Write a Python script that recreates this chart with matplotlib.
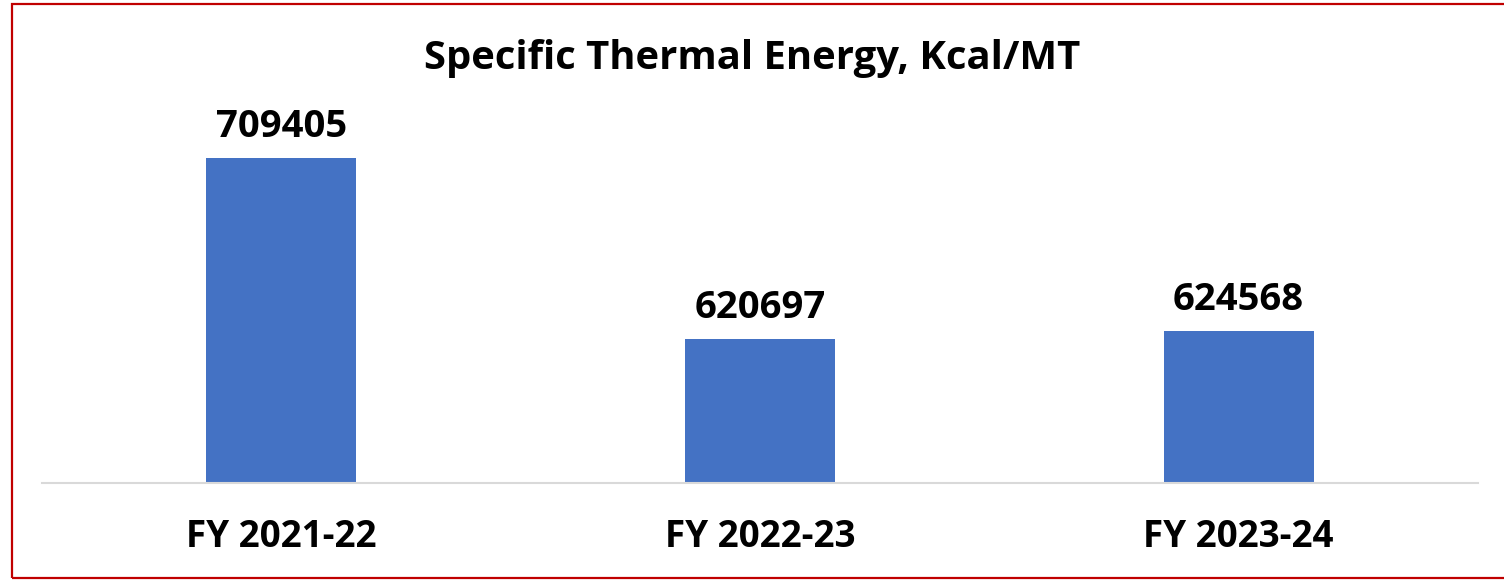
import matplotlib
matplotlib.use('Agg')
import matplotlib.pyplot as plt
from matplotlib.patches import Rectangle

# data
years = ['FY 2021-22', 'FY 2022-23', 'FY 2023-24']
energy = [709405, 620697, 624568]

plt.rcParams['font.family'] = ['Open Sans', 'DejaVu Sans']
plt.rcParams['font.weight'] = 'bold'

fig = plt.figure(figsize=(15.04, 5.80), dpi=100)
ax = fig.add_axes([0.0279, 0.1672, 0.9548, 0.7034])

ax.bar(years, energy, width=0.313, color='#4472C4')
ax.set_xlim(-0.5, 2.5)
ax.set_ylim(550000, 750000)

for i, v in enumerate(energy):
    ax.text(i, v + 6000, str(v), ha='center', va='bottom', fontsize=27.5, fontweight='bold')

ax.set_yticks([])
ax.tick_params(axis='x', length=0, pad=25, labelsize=26.5)
for lbl in ax.get_xticklabels():
    lbl.set_fontweight('bold')
for s in ['top', 'right', 'left']:
    ax.spines[s].set_visible(False)
ax.spines['bottom'].set_color('#D9D9D9')
ax.spines['bottom'].set_linewidth(1.5)

fig.text(0.5, 0.9, 'Specific Thermal Energy, Kcal/MT', ha='center', va='center',
         fontsize=28.8, fontweight='bold')

# red border (right side runs off the picture)
fig.patches.append(Rectangle((0.0077, 0.0028), 1.0, 0.9905, transform=fig.transFigure,
                             fill=False, edgecolor='#C00000', linewidth=1.6))

plt.savefig('out.png', dpi=100)
